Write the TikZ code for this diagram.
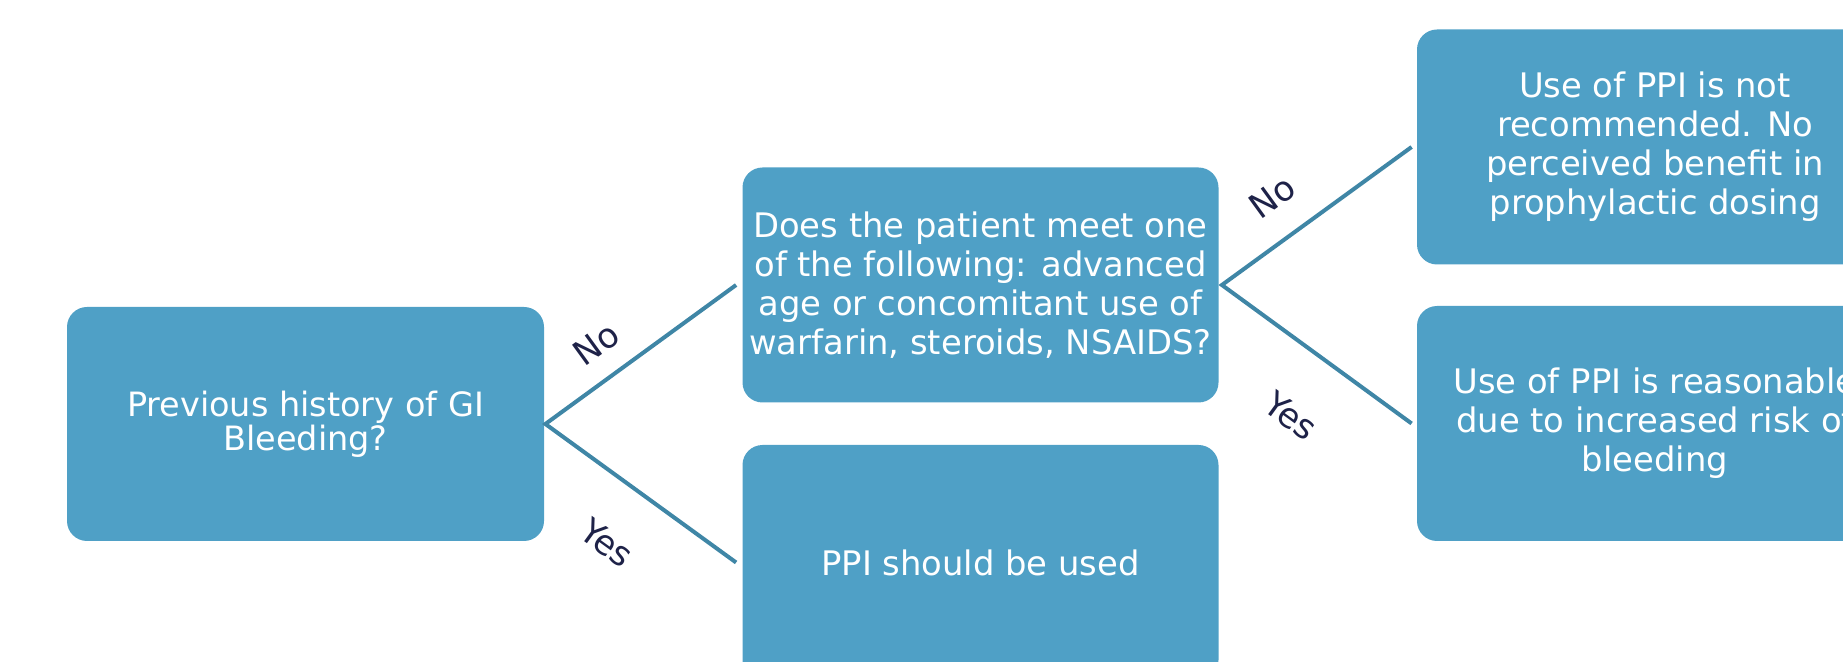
\documentclass[tikz,border=0pt]{standalone}
\usepackage{fontspec}
\setmainfont{DejaVu Sans}
\definecolor{boxfill}{HTML}{4FA0C6}
\definecolor{linec}{HTML}{3F86A6}
\definecolor{labc}{HTML}{1E2248}
\begin{document}
\begin{tikzpicture}[x=0.5pt,y=-0.5pt,
  boxnode/.style={fill=boxfill, draw=none, rounded corners=10pt, minimum width=238pt, minimum height=117.5pt,
    text=white, align=center, inner sep=0pt, font=\fontsize{16.9pt}{19.5pt}\selectfont},
  conn/.style={draw=linec, line width=2pt, line join=miter},
  lab/.style={text=labc, inner sep=0pt, font=\fontsize{17.2pt}{19.5pt}\selectfont}]
\useasboundingbox (0,0) rectangle (1843,662);
\clip (0,0) rectangle (1843,662);
\node[boxnode, minimum width=238.5pt, minimum height=117pt, font=\fontsize{16.75pt}{17pt}\selectfont] (b1) at (305.5,424) {Previous history of GI\\Bleeding?};
\node[boxnode] (b2) at (980.5,285) {Does the patient meet one\\of the following: advanced\\age or concomitant use of\\warfarin, steroids, NSAIDS?};
\node[boxnode] (b3) at (980.5,562.5) {PPI should be used};
\node[boxnode] (b4) at (1655,147) {Use of PPI is not\\recommended. No\\perceived benefit in\\prophylactic dosing};
\node[boxnode] (b5) at (1655,423.5) {Use of PPI is reasonable\\due to increased risk of\\bleeding};
\draw[conn] ([xshift=-3pt]b2.west) -- ([xshift=0.5pt]b1.east) -- ([xshift=-3pt]b3.west);
\draw[conn] ([xshift=-2.5pt]b4.west) -- ([xshift=1.5pt]b2.east) -- ([xshift=-2.5pt]b5.west);
\node[lab, rotate=36] (l1) at (596,344) {No};
\node[lab, rotate=-36] (l2) at (607,543) {Yes};
\node[lab, rotate=36] (l3) at (1272,197) {No};
\node[lab, rotate=-36] (l4) at (1291,416) {Yes};
\end{tikzpicture}
\end{document}
